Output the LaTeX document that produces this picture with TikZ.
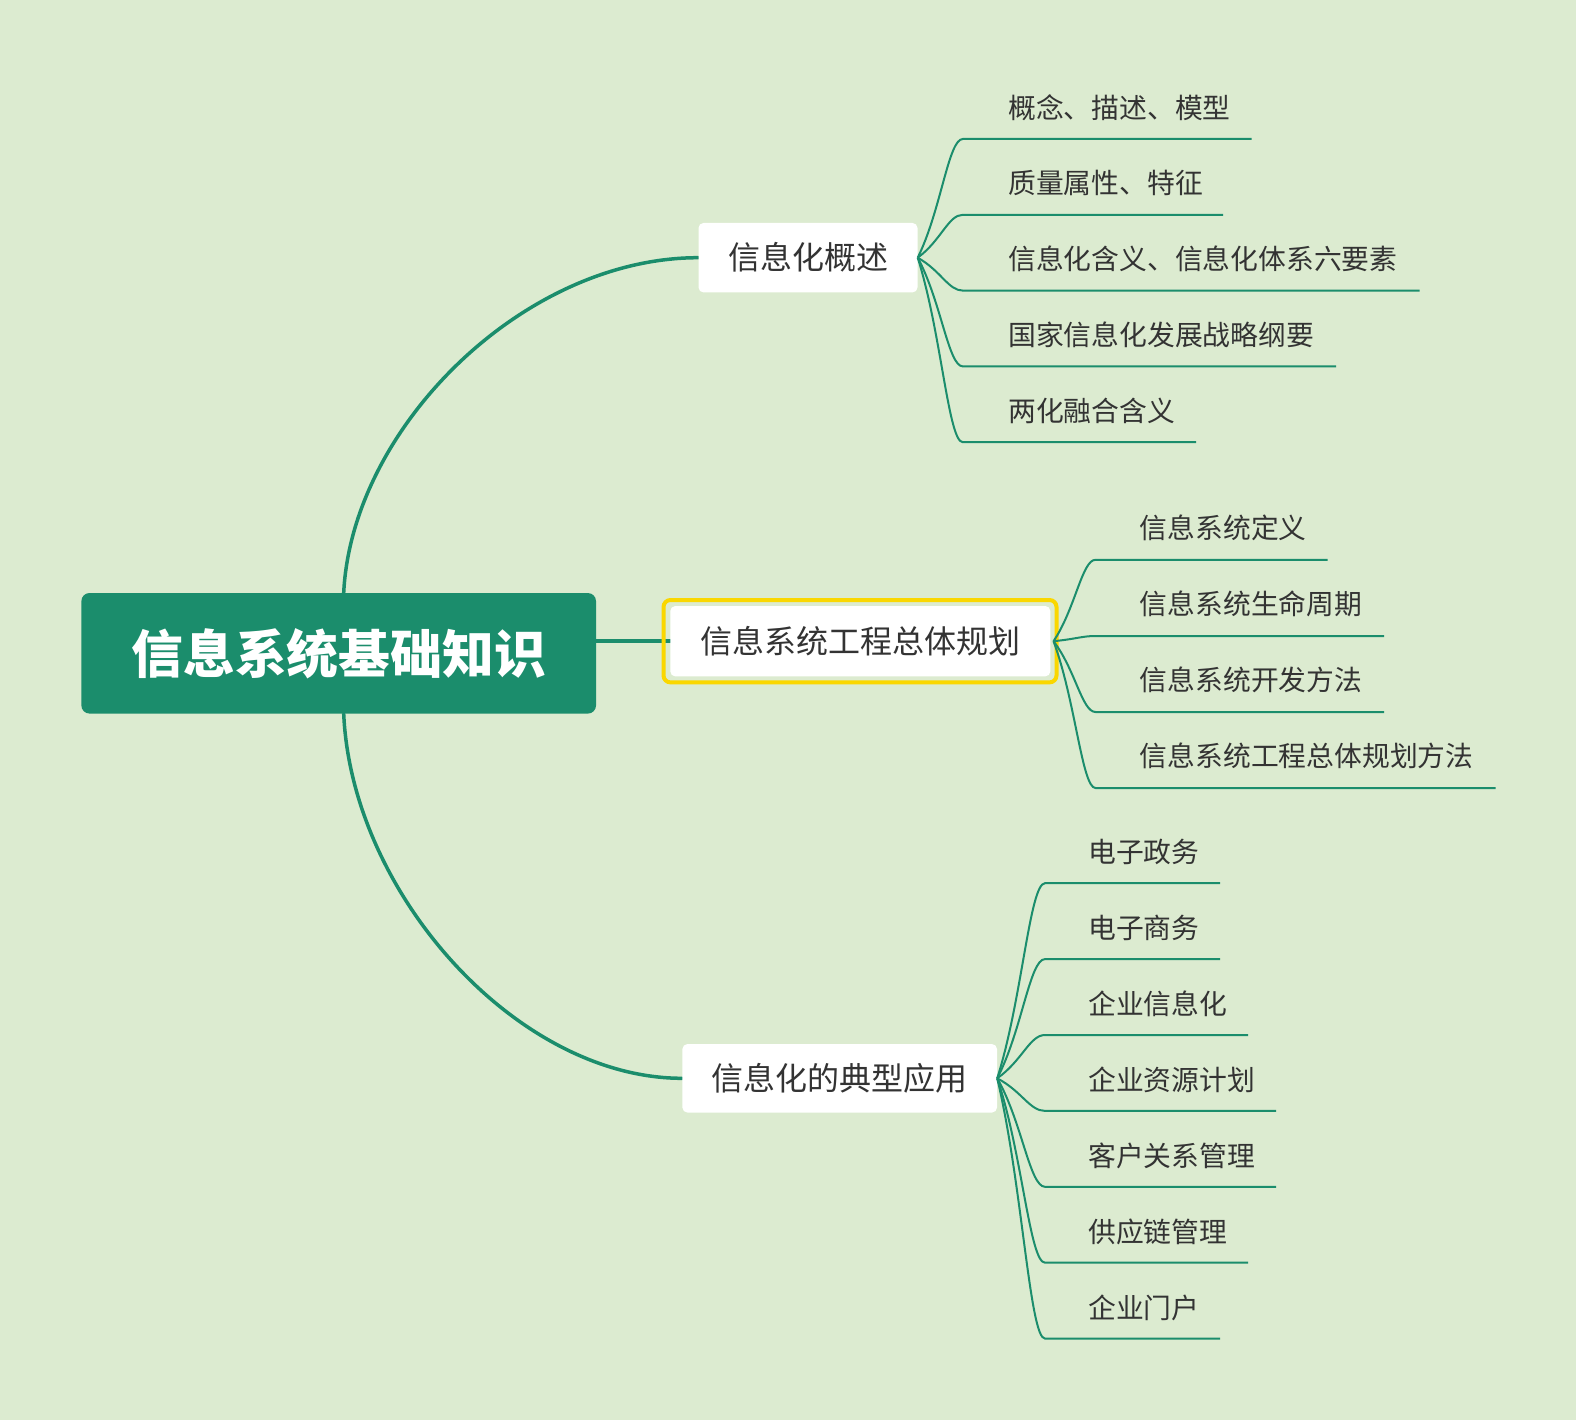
\documentclass[tikz,border=0pt]{standalone}
\usepackage{fontspec}
\setmainfont{Noto Sans CJK SC}
\usetikzlibrary{calc,backgrounds}
\definecolor{bg}{RGB}{220,235,208}
\definecolor{main}{RGB}{27,141,108}
\definecolor{sel}{RGB}{250,215,0}
\definecolor{txt}{RGB}{51,51,51}
\begin{document}
\begin{tikzpicture}[x=1pt,y=-1pt,
  rootbox/.style={rectangle, rounded corners=8pt, fill=main, text=white,
    font=\fontsize{51.8}{52}\selectfont\bfseries, minimum width=514.6pt,
    minimum height=120.5pt, inner sep=0pt},
  topic/.style={rectangle, rounded corners=5pt, fill=white, text=txt,
    font=\fontsize{32}{32}\selectfont, inner sep=0pt},
  selbox/.style={rectangle, rounded corners=7pt, draw=sel, line width=4pt,
    inner sep=0pt},
  leaf/.style={anchor=west, inner sep=0pt, text=txt,
    font=\fontsize{27.8}{28}\selectfont},
  trunk/.style={draw=main, line width=3.5pt, line cap=round},
  twig/.style={draw=main, line width=2pt},
  leafc/.style={to path={let \p1=(\tikztostart), \p2=(\tikztotarget) in
    .. controls ($(\p1)+({0.52*(\x2-\x1)},{0.4*(\y2-\y1)})$)
    and ($(\p2)+({-0.32*(\x2-\x1)},0)$) .. (\p2) \tikztonodes}}
]
\useasboundingbox (0,0) rectangle (1576,1420);

% nodes
\node[rootbox] (root) at (338.7,653.3) {信息系统基础知识};
\node[topic, minimum width=219pt, minimum height=69.5pt] (b1) at (808,257.7) {信息化概述};
\node[selbox, minimum width=393pt, minimum height=82.4pt] (b2sel) at (860,641.2) {};
\node[topic, minimum width=380pt, minimum height=70.4pt] (b2) at (860.3,641.2) {信息系统工程总体规划};
\node[topic, minimum width=314.6pt, minimum height=68.5pt] (b3) at (839.7,1078.3) {信息化的典型应用};
\coordinate (b2o) at ([xshift=3pt]b2.east);

\begin{scope}[on background layer]
\fill[bg] (0,0) rectangle (1576,1420);
\draw[trunk] ([xshift=5pt]root.north) .. controls +(8,-165) and +(-175,0) .. (b1.west);
\draw[trunk] ([xshift=5pt]root.south) .. controls +(8,180) and +(-165,0) .. (b3.west);
\draw[trunk] (root.east |- b2.west) -- (b2.west);
\end{scope}

% branch 1 leaves
\node[leaf] (l1a) at (1008,107.3) {概念、描述、模型};
\node[leaf] (l1b) at (1008,183.1) {质量属性、特征};
\node[leaf] (l1c) at (1008,258.9) {信息化含义、信息化体系六要素};
\node[leaf] (l1d) at (1008,334.7) {国家信息化发展战略纲要};
\node[leaf] (l1e) at (1008,410.5) {两化融合含义};
\coordinate (l1as) at (962.8,139);   \coordinate (l1ae) at (1251.5,139);
\coordinate (l1bs) at (962.8,214.8); \coordinate (l1be) at (1223,214.8);
\coordinate (l1cs) at (962.8,290.6); \coordinate (l1ce) at (1419.5,290.6);
\coordinate (l1ds) at (962.8,366.4); \coordinate (l1de) at (1336,366.4);
\coordinate (l1es) at (962.8,442.2); \coordinate (l1ee) at (1196,442.2);
\foreach \lf in {l1a,l1b,l1c,l1d,l1e}
  \draw[twig] (b1.east) to[leafc] (\lf s) -- (\lf e);

% branch 2 leaves
\node[leaf] (l2a) at (1139.7,527.8) {信息系统定义};
\node[leaf] (l2b) at (1139.7,604) {信息系统生命周期};
\node[leaf] (l2c) at (1139.7,680) {信息系统开发方法};
\node[leaf] (l2d) at (1139.7,756) {信息系统工程总体规划方法};
\coordinate (l2as) at (1095.5,559.8); \coordinate (l2ae) at (1327.6,559.8);
\coordinate (l2bs) at (1095.5,636);   \coordinate (l2be) at (1384,636);
\coordinate (l2cs) at (1095.5,712);   \coordinate (l2ce) at (1384,712);
\coordinate (l2ds) at (1095.5,788);   \coordinate (l2de) at (1495.5,788);
\foreach \lf in {l2a,l2b,l2c,l2d}
  \draw[twig] (b2o) to[leafc] (\lf s) -- (\lf e);

% branch 3 leaves
\node[leaf] (l3a) at (1088,852) {电子政务};
\node[leaf] (l3b) at (1088,928) {电子商务};
\node[leaf] (l3c) at (1088,1004) {企业信息化};
\node[leaf] (l3d) at (1088,1080) {企业资源计划};
\node[leaf] (l3e) at (1088,1156) {客户关系管理};
\node[leaf] (l3f) at (1088,1232) {供应链管理};
\node[leaf] (l3g) at (1088,1308) {企业门户};
\coordinate (l3as) at (1045,883.2);  \coordinate (l3ae) at (1220,883.2);
\coordinate (l3bs) at (1045,959.1);  \coordinate (l3be) at (1220,959.1);
\coordinate (l3cs) at (1045,1035);   \coordinate (l3ce) at (1248,1035);
\coordinate (l3ds) at (1045,1110.9); \coordinate (l3de) at (1276,1110.9);
\coordinate (l3es) at (1045,1186.8); \coordinate (l3ee) at (1276,1186.8);
\coordinate (l3fs) at (1045,1262.7); \coordinate (l3fe) at (1248,1262.7);
\coordinate (l3gs) at (1045,1338.6); \coordinate (l3ge) at (1220,1338.6);
\foreach \lf in {l3a,l3b,l3c,l3d,l3e,l3f,l3g}
  \draw[twig] (b3.east) to[leafc] (\lf s) -- (\lf e);
\end{tikzpicture}
\end{document}
